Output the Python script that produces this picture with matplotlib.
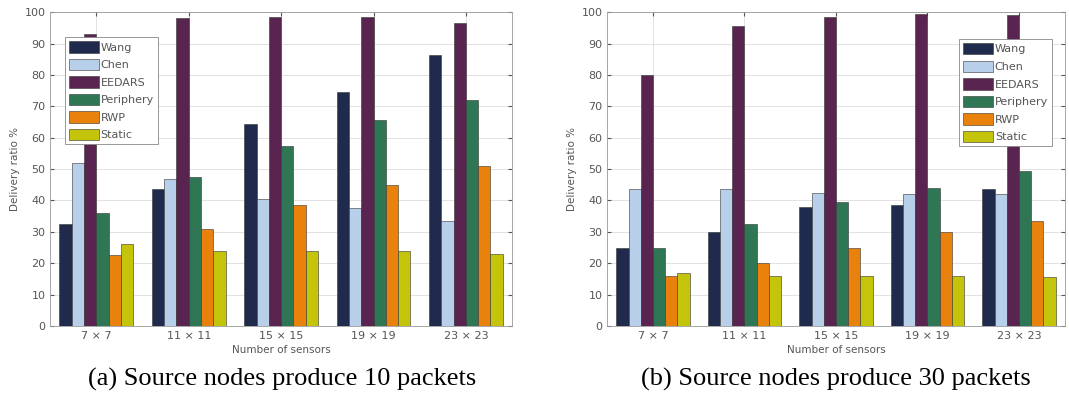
import numpy as np
import matplotlib.pyplot as plt

grupos = ['7 × 7', '11 × 11', '15 × 15', '19 × 19', '23 × 23']
metodos = ['Wang', 'Chen', 'EEDARS', 'Periphery', 'RWP', 'Static']
colores = ['#1f2a4d', '#b8cfe9', '#5a2450', '#2f7655', '#e8820c', '#c4c40a']

# (a) 10 packets
wang_a = [32.5, 43.5, 64.5, 74.5, 86.5]
chen_a = [52, 47, 40.5, 37.5, 33.5]
eedars_a = [93, 98, 98.5, 98.5, 96.5]
periphery_a = [36, 47.5, 57.5, 65.5, 72]
rwp_a = [22.5, 31, 38.5, 45, 51]
static_a = [26, 24, 24, 24, 23]

# (b) 30 packets
wang_b = [25, 30, 38, 38.5, 43.5]
chen_b = [43.5, 43.5, 42.5, 42, 42]
eedars_b = [80, 95.5, 98.5, 99.5, 99]
periphery_b = [25, 32.5, 39.5, 44, 49.5]
rwp_b = [16, 20, 25, 30, 33.5]
static_b = [17, 16, 16, 16, 15.5]

datos_a = [wang_a, chen_a, eedars_a, periphery_a, rwp_a, static_a]
datos_b = [wang_b, chen_b, eedars_b, periphery_b, rwp_b, static_b]

gris = '#555555'

fig = plt.figure(figsize=(10.69, 4.05), dpi=100)
ax1 = fig.add_axes([0.047, 0.195, 0.432, 0.775])
ax2 = fig.add_axes([0.568, 0.195, 0.428, 0.775])


def dibujar(ax, datos, loc_legend, anchor):
    x = np.arange(1, len(grupos) + 1)
    ancho = 0.8 / len(metodos)
    for i, (serie, c) in enumerate(zip(datos, colores)):
        ax.bar(x - 0.4 + ancho * (i + 0.5), serie, ancho, color=c,
               edgecolor='#333333', linewidth=0.4, label=metodos[i], zorder=3)
    ax.set_xlim(0.5, 5.5)
    ax.set_ylim(0, 100)
    ax.set_yticks(range(0, 101, 10))
    ax.set_xticks(x)
    ax.set_xticklabels(grupos)
    ax.tick_params(direction='in', labelsize=8, colors=gris, length=3,
                   top=True, right=True)
    ax.grid(True, color='#dddddd', linewidth=0.6, zorder=0)
    for s in ax.spines.values():
        s.set_color('#999999')
        s.set_linewidth(0.6)
    ax.set_ylabel('Delivery ratio %', fontsize=7.5, color=gris, labelpad=3)
    ax.set_xlabel('Number of sensors', fontsize=7.5, color=gris, labelpad=3)
    leg = ax.legend(loc=loc_legend, bbox_to_anchor=anchor, borderaxespad=0,
                    fontsize=8, fancybox=False,
                    handlelength=2.7, handleheight=1.2, handletextpad=0.15,
                    labelspacing=0.55, borderpad=0.35, framealpha=1)
    leg.get_frame().set_edgecolor('#888888')
    leg.get_frame().set_linewidth(0.6)
    for t in leg.get_texts():
        t.set_color(gris)


dibujar(ax1, datos_a, 'upper left', (0.032, 0.92))
dibujar(ax2, datos_b, 'upper right', (0.972, 0.914))

fig.text(0.264, 0.062, '(a) Source nodes produce 10 packets', ha='center',
         va='center', fontsize=19, family='Liberation Serif')
fig.text(0.782, 0.062, '(b) Source nodes produce 30 packets', ha='center',
         va='center', fontsize=19, family='Liberation Serif')

plt.savefig('out.png', dpi=100)
